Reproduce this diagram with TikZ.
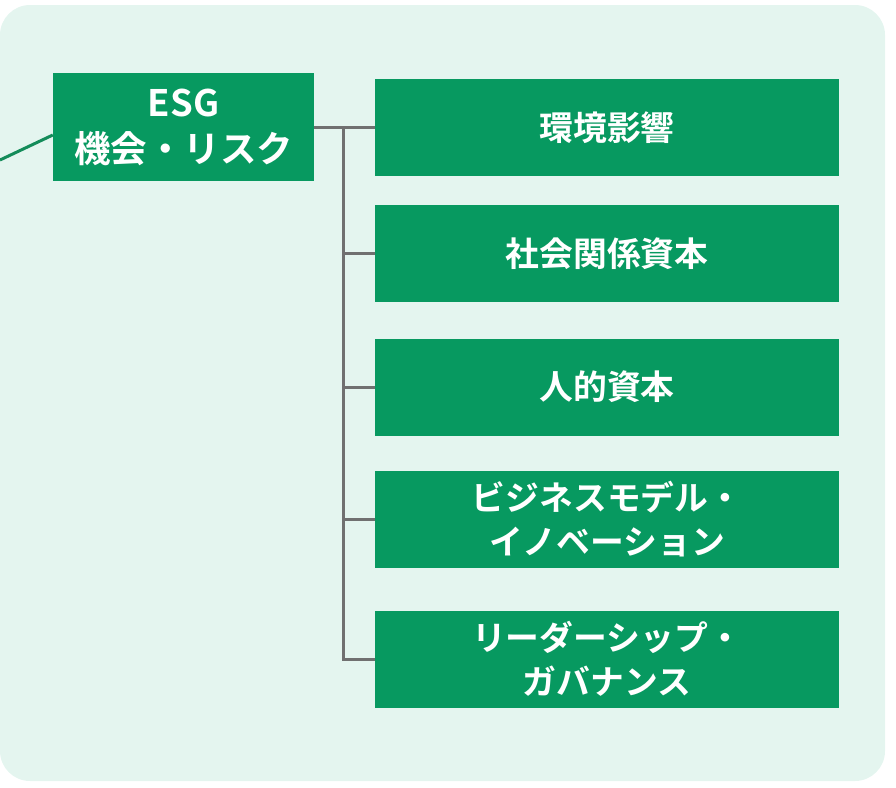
\documentclass[tikz,border=0pt]{standalone}
\usepackage{fontspec}
\newfontfamily\cjkb[BoldFont={Noto Sans CJK JP Bold}]{Noto Sans CJK JP}
\usetikzlibrary{calc}
\definecolor{bgmint}{RGB}{228,245,239}
\definecolor{boxgreen}{RGB}{7,153,96}
\definecolor{linegray}{RGB}{112,112,112}
\definecolor{linegreen}{RGB}{20,140,90}
\tikzset{
  esgbox/.style={fill=boxgreen, draw=none, minimum width=261pt, minimum height=108pt, inner sep=0pt,
    text=white, align=center, font=\cjkb\bfseries\fontsize{36.5}{46}\selectfont},
  itembox/.style={fill=boxgreen, draw=none, minimum width=464pt, minimum height=97pt, inner sep=0pt,
    text=white, align=center, font=\cjkb\bfseries\fontsize{33.8}{44}\selectfont},
  treeline/.style={draw=linegray, line width=3pt},
}
\begin{document}
\begin{tikzpicture}[x=1pt,y=-1pt]
\useasboundingbox (0,0) rectangle (896,787);
\fill[bgmint, rounded corners=30pt] (0,5) rectangle (885,781);
\coordinate (lstart) at (0,160);
\node[esgbox] (esg) at (183.5,127) {ESG\\機会・リスク};
\draw[linegreen, line width=3pt] (lstart) -- ($(esg.west)+(0,8)$);
\node[itembox] (b1) at (607,127.5) {環境影響};
\node[itembox] (b2) at (607,253.5) {社会関係資本};
\node[itembox] (b3) at (607,387) {人的資本};
\node[itembox] (b4) at (607,519) {ビジネスモデル・\\イノベーション};
\node[itembox] (b5) at (607,659) {リーダーシップ・\\ガバナンス};
\coordinate (jtop) at (343,127.5);
\coordinate (jbot) at (343,659);
\draw[treeline] (esg.east |- b1.west) -- (b1.west);
\draw[treeline] (jtop) -- (jbot) -- (b5.west);
\draw[treeline] (jtop |- b2.west) -- (b2.west);
\draw[treeline] (jtop |- b3.west) -- (b3.west);
\draw[treeline] (jtop |- b4.west) -- (b4.west);
\end{tikzpicture}
\end{document}
